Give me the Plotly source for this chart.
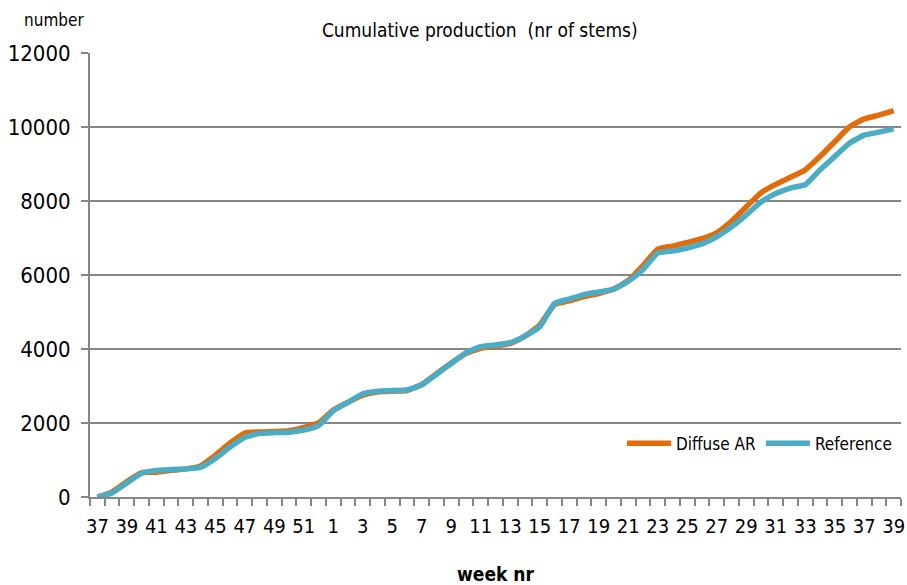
import plotly.graph_objects as go

weeks = list(range(37, 53)) + list(range(1, 40))
diffuse_ar = [0, 140, 420, 660, 670, 720, 760, 840, 1130, 1460, 1730, 1760, 1770, 1790, 1880, 2000,
              2350, 2560, 2750, 2840, 2860, 2880, 3040, 3330, 3620, 3880, 4020, 4080, 4150, 4350,
              4650, 5200, 5300, 5420, 5500, 5620, 5850, 6250, 6700, 6780, 6880, 6980, 7140, 7450,
              7840, 8220, 8450, 8640, 8840, 9200, 9600, 10000, 10220, 10320, 10440]
reference = [0, 110, 380, 640, 720, 740, 760, 800, 1040, 1350, 1610, 1720, 1740, 1750, 1810, 1930,
             2330, 2560, 2790, 2860, 2880, 2890, 3030, 3320, 3610, 3900, 4060, 4110, 4170, 4350,
             4600, 5230, 5350, 5470, 5540, 5610, 5830, 6150, 6590, 6650, 6730, 6840, 7030, 7300,
             7620, 7970, 8200, 8350, 8440, 8840, 9200, 9560, 9780, 9860, 9950]
title_text = "Cumulative production  (nr of stems)"
y_ticks = [0, 2000, 4000, 6000, 8000, 10000, 12000]

FONT = "DejaVu Sans Condensed, Liberation Sans Narrow, Arial Narrow, sans-serif"
idx = list(range(len(weeks)))

fig = go.Figure()
fig.add_trace(go.Scatter(x=idx, y=diffuse_ar, mode="lines", name="Diffuse AR",
                         line=dict(color="#E36C0A", width=5.5, shape="spline", smoothing=0.4)))
fig.add_trace(go.Scatter(x=idx, y=reference, mode="lines", name="Reference",
                         line=dict(color="#4BACC6", width=5.5, shape="spline", smoothing=0.4)))

fig.update_layout(
    width=907, height=585,
    margin=dict(l=90, r=6, t=53, b=88, autoexpand=False),
    paper_bgcolor="white", plot_bgcolor="white",
    font=dict(family=FONT, color="black"),
    title=dict(text=title_text, x=0.529, xanchor="center", y=0.948, yanchor="middle",
               font=dict(size=19, family=FONT)),
    showlegend=True,
    legend=dict(orientation="h", x=0.995, xanchor="right", y=0.12, yanchor="middle",
                bgcolor="rgba(0,0,0,0)", font=dict(size=17, family=FONT),
                itemwidth=44, tracegroupgap=0),
    xaxis=dict(
        automargin=False,
        range=[-0.5, len(weeks) - 0.5],
        tickmode="array",
        tickvals=idx[::2],
        ticktext=[str(w) for w in weeks[::2]],
        ticks="", showgrid=False, zeroline=False,
        showline=True, linecolor="#868686", linewidth=2,
        tickfont=dict(size=20, family=FONT),
        ticklabelstandoff=10,
        ticklabeloverflow="allow",
        minor=dict(tickmode="array", tickvals=[i - 0.5 for i in range(len(weeks) + 1)],
                   ticks="outside", ticklen=7, tickwidth=2, tickcolor="#868686", showgrid=False),
        title=dict(text="<b>week nr</b>", font=dict(size=19, family=FONT), standoff=44),
    ),
    yaxis=dict(
        automargin=False,
        range=[0, 12000],
        tickmode="array", tickvals=y_ticks, ticktext=[str(v) for v in y_ticks],
        ticks="outside", ticklen=7, tickwidth=2, tickcolor="#868686",
        showgrid=True, gridcolor="#868686", gridwidth=2,
        zeroline=False, showline=True, linecolor="#868686", linewidth=2,
        tickfont=dict(size=22, family=FONT),
        ticklabelstandoff=6,
    ),
)
fig.add_annotation(text="number", xref="paper", yref="paper", x=-0.045, y=1.075,
                   xanchor="center", yanchor="middle", showarrow=False,
                   font=dict(size=17, family=FONT))

fig.write_html("out.html", config={"displayModeBar": False},
               post_script="document.body.style.margin='0';")
